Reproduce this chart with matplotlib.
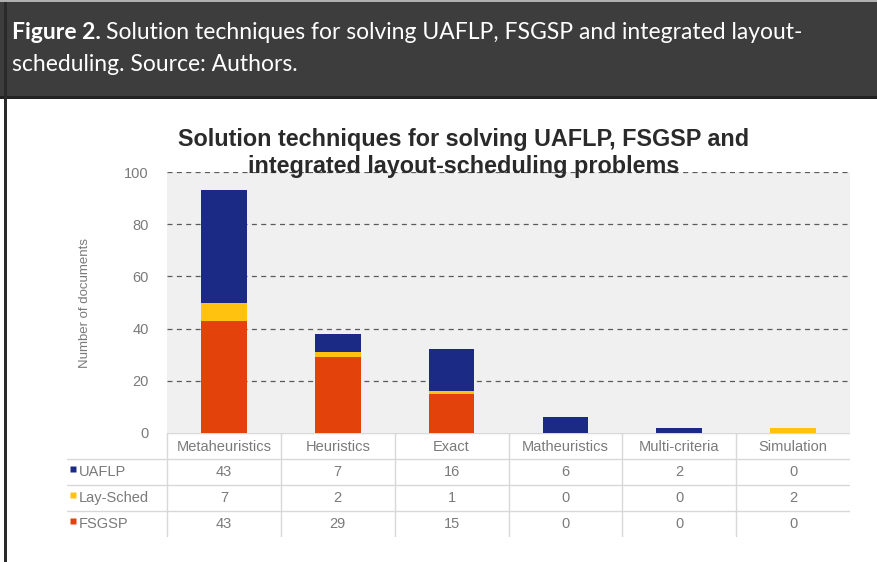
"""
Stacked bar chart with a data table: solution techniques for UAFLP, FSGSP
and integrated layout-scheduling problems.
"""

import matplotlib
matplotlib.use("Agg")
import matplotlib.pyplot as plt
import matplotlib.patches as patches

# --- data ---------------------------------------------------------------
techniques = ["Metaheuristics", "Heuristics", "Exact", "Matheuristics",
              "Multi-criteria", "Simulation"]
uaflp = [43, 7, 16, 6, 2, 0]
lay_sched = [7, 2, 1, 0, 0, 2]
fsgsp = [43, 29, 15, 0, 0, 0]
series_names = ["UAFLP", "Lay-Sched", "FSGSP"]
y_ticks = [0, 20, 40, 60, 80, 100]

col_uaflp = "#1b2a84"
col_lay = "#ffc20e"
col_fsgsp = "#e4420b"
text_gray = "#7a7a7a"
line_gray = "#d8d8d8"

W, H = 877, 562


def fx(px):
    return px / W


def fy(py):
    return 1 - py / H


fig = plt.figure(figsize=(W / 100, H / 100), dpi=100)
fig.patch.set_facecolor("white")

# header band of the figure caption
fig.patches.append(patches.Rectangle((0, fy(97)), 1, fy(2) - fy(97),
                                     transform=fig.transFigure,
                                     facecolor="#3d3d3d", edgecolor="none"))
fig.patches.append(patches.Rectangle((0, fy(99)), 1, fy(96) - fy(99),
                                     transform=fig.transFigure,
                                     facecolor="#222222", edgecolor="none"))
fig.patches.append(patches.Rectangle((0, fy(2)), 1, fy(0) - fy(2),
                                     transform=fig.transFigure,
                                     facecolor="#b0b0b0", edgecolor="none"))
fig.patches.append(patches.Rectangle((fx(4), 0), fx(3), fy(2),
                                     transform=fig.transFigure,
                                     facecolor="#2a2a2a", edgecolor="none"))

renderer = fig.canvas.get_renderer()
cap_font = "Lato"
cap_size = 16.5
t1 = fig.text(fx(12), fy(39), "Figure 2.", color="white", fontsize=cap_size,
              fontweight="bold", family=cap_font, va="baseline")
bb = t1.get_window_extent(renderer=renderer)
fig.text(bb.x1 / W + fx(5), fy(39),
         "Solution techniques for solving UAFLP, FSGSP and integrated layout-",
         color="white", fontsize=cap_size, family=cap_font, va="baseline")
fig.text(fx(12), fy(71), "scheduling. Source: Authors.", color="white",
         fontsize=cap_size, family=cap_font, va="baseline")

# --- main bar axes -----------------------------------------------------
left, right, top, base = 167, 850, 172, 433
ax = fig.add_axes([fx(left), fy(base), fx(right) - fx(left), fy(top) - fy(base)])
ax.set_facecolor("#f0f0f0")
x = list(range(len(techniques)))
bw = 0.4
bottom2 = fsgsp
bottom3 = [a + b for a, b in zip(fsgsp, lay_sched)]
ax.bar(x, fsgsp, bw, color=col_fsgsp, zorder=3)
ax.bar(x, lay_sched, bw, bottom=bottom2, color=col_lay, zorder=3)
ax.bar(x, uaflp, bw, bottom=bottom3, color=col_uaflp, zorder=3)

ax.set_xlim(-0.5, len(techniques) - 0.5)
ax.set_ylim(0, 100)
ax.set_yticks(y_ticks)
ax.set_xticks([])
for v in y_ticks[1:]:
    ax.axhline(v, color="#5a5a5a", lw=0.9, ls=(0, (4, 3.5)), zorder=2)
for s in ax.spines.values():
    s.set_visible(False)
ax.tick_params(axis="y", length=0, pad=13, labelcolor=text_gray,
               labelsize=10.5)
for lab in ax.get_yticklabels():
    lab.set_family("Liberation Sans")
ax.set_ylabel("Number of documents", color=text_gray, fontsize=9.5,
              family="Liberation Sans", labelpad=24)

fig.text(fx(464), fy(153),
         "Solution techniques for solving UAFLP, FSGSP and\n"
         "integrated layout-scheduling problems",
         ha="center", va="center", fontsize=16.8, fontweight="bold",
         family="Liberation Sans", color="#2a2a2a", linespacing=1.2)

# --- data table below the bars ----------------------------------------
tab_left, tab_bottom = 67, 537
unit = (right - left) / len(techniques)
extra = (left - tab_left) / unit
tab = fig.add_axes([fx(tab_left), fy(tab_bottom), fx(right) - fx(tab_left),
                    fy(base) - fy(tab_bottom)])
tab.set_xlim(-0.5 - extra, len(techniques) - 0.5)
tab.set_ylim(4, 0)
tab.axis("off")

# grid lines of the table
tab.plot([-0.5, len(techniques) - 0.5], [0, 0], color=line_gray, lw=1)
for r in (1, 2, 3):
    tab.plot([-0.5 - extra, len(techniques) - 0.5], [r, r], color=line_gray, lw=1)
for c in range(len(techniques)):
    tab.plot([c - 0.5, c - 0.5], [0, 4], color=line_gray, lw=1)

tsize = 10.5
for i, name in enumerate(techniques):
    tab.text(i, 0.55, name, ha="center", va="center", color=text_gray,
             fontsize=tsize, family="Liberation Sans")

rows = [uaflp, lay_sched, fsgsp]
colors = [col_uaflp, col_lay, col_fsgsp]
for r, (name, vals, col) in enumerate(zip(series_names, rows, colors)):
    yy = r + 1.5
    tab.plot(-0.5 - extra + 0.055, yy - 0.1, marker="s", ms=5, color=col,
             mec="none", clip_on=False)
    tab.text(-0.5 - extra + 0.1, yy, name, ha="left", va="center",
             color=text_gray, fontsize=tsize, family="Liberation Sans")
    for i, v in enumerate(vals):
        tab.text(i, yy, str(v), ha="center", va="center", color=text_gray,
                 fontsize=tsize, family="Liberation Sans")

fig.savefig("out.png", dpi=100)
